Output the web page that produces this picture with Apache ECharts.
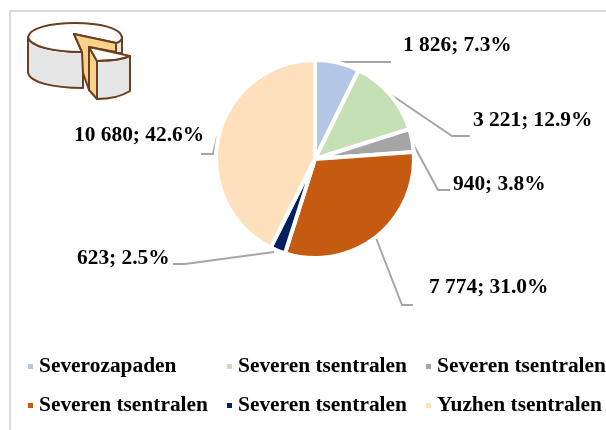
<!DOCTYPE html>
<html>
<head>
<meta charset="utf-8">
<script src="https://cdn.jsdelivr.net/npm/echarts@6/dist/echarts.min.js"></script>
<style>
html, body { margin: 0; padding: 0; background: #fff; }
#chart { width: 606px; height: 430px; }
</style>
</head>
<body>
<div id="chart"></div>
<script>
const regions = ['Severozapaden', 'Severen tsentralen', 'Severen tsentralen', 'Severen tsentralen', 'Severen tsentralen', 'Yuzhen tsentralen']
const counts = [1826, 3221, 940, 7774, 623, 10680]
const shares = ['7.3', '12.9', '3.8', '31.0', '2.5', '42.6']
const colors = ['#b4c7e7', '#c5e0b4', '#a5a5a5', '#c55a11', '#002060', '#ffe0bd']

const labelSpots = [[403, 45], [473, 120], [453, 184], [429, 287], [77, 258], [74, 135]]
const leaderLines = [
  [[337, 62], [380, 62], [391, 62]],
  [[390, 94], [452, 136], [470, 136]],
  [[412, 142], [438, 190], [450, 190]],
  [[376, 238], [402, 305], [413, 305]],
  [[274, 252], [185, 264], [173, 264]],
  [[217, 137], [213, 154], [201, 154]],
]
const legendSpots = [[26, 368], [225, 368], [424, 368], [26, 407], [225, 407], [424, 407]]

function formatCount(v) {
  return String(v).replace(/\B(?=(\d{3})+$)/g, ' ')
}

const serif = '"Liberation Serif", serif'

// cheese icon, top left corner of the picture
const iconSvg = `<svg xmlns="http://www.w3.org/2000/svg" width="140" height="110" viewBox="0 0 140 110">
<g stroke="#6b3e1f" stroke-width="2" stroke-linejoin="round">
<path fill="#e7e6e6" d="M28 37 L28 73 C30 82 52 88 83 88 L83 52 C52 52 30 46 28 37 Z"/>
<path fill="#e7e6e6" d="M116 43 L122 37 L122 53 L116 53 Z"/>
<path fill="#fff" d="M116 43 C120 42 122 40 122 37 C120 28 100 23 75 23 C50 23 30 28 28 37 C30 46 52 52 82 52 L74 34 Z"/>
<path fill="#f9d38a" d="M74 34 L116 43 L116 52 L89 47 L89 90 L83 73 L82 52 Z"/>
<path fill="#f9d38a" d="M89 47 L97 61 L97 99 L89 90 Z"/>
<path fill="#fff" d="M89 47 L130 56 C122 60 110 61 97 61 Z"/>
<path fill="#e7e6e6" d="M97 61 C110 61 122 60 130 56 L130 91 C122 96 110 99 97 99 Z"/>
</g></svg>`

const chart = echarts.init(document.getElementById('chart'))

chart.setOption({
  animation: false,
  backgroundColor: '#fff',
  legend: regions.map((name, i) => ({
    left: legendSpots[i][0],
    top: legendSpots[i][1] - 12,
    data: [{ name, itemStyle: { color: colors[i] } }],
    icon: 'rect',
    itemWidth: 7,
    itemHeight: 7,
    itemGap: 0,
    padding: 0,
    selectedMode: false,
    textStyle: { fontFamily: serif, fontSize: 21.4, fontWeight: 'bold', color: '#000', padding: [0, 0, 0, 0] },
  })),
  graphic: [
    {
      type: 'rect',
      shape: { x: 10, y: 11, width: 620, height: 450 },
      style: { fill: 'none', stroke: '#d9d9d9', lineWidth: 2 },
      z: -1,
    },
    {
      type: 'image',
      style: { image: 'data:image/svg+xml;charset=utf-8,' + encodeURIComponent(iconSvg), x: 0, y: 0, width: 140, height: 110 },
    },
  ],
  series: [{
    type: 'pie',
    center: [315, 159],
    radius: [0, 99],
    startAngle: 90,
    clockwise: true,
    data: regions.map((name, i) => ({ name, value: counts[i], itemStyle: { color: colors[i] } })),
    itemStyle: { borderColor: '#fff', borderWidth: 4 },
    emphasis: { disabled: true },
    label: {
      show: true,
      fontFamily: serif,
      fontSize: 21.4,
      fontWeight: 'bold',
      color: '#000',
      formatter: (p) => `${formatCount(counts[p.dataIndex])}; ${shares[p.dataIndex]}%`,
    },
    labelLine: { show: true, lineStyle: { color: '#a6a6a6', width: 2 } },
    labelLayout: (p) => ({
      x: labelSpots[p.dataIndex][0],
      y: labelSpots[p.dataIndex][1],
      align: 'left',
      verticalAlign: 'middle',
      labelLinePoints: leaderLines[p.dataIndex],
    }),
  }],
})
</script>
</body>
</html>
